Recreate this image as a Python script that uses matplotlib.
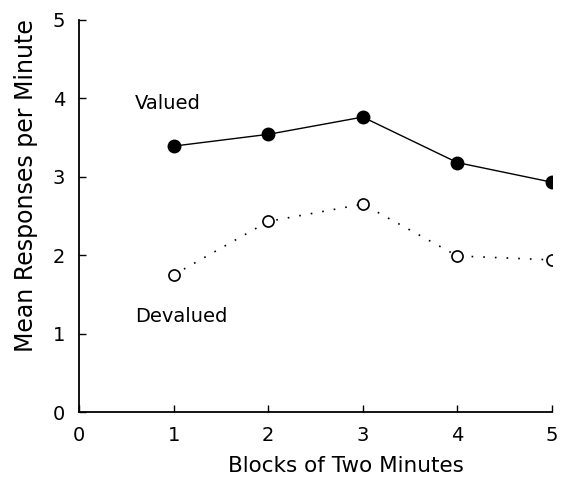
import matplotlib.pyplot as plt

blocks = [1, 2, 3, 4, 5]
valued = [3.39, 3.54, 3.76, 3.18, 2.93]
devalued = [1.75, 2.43, 2.65, 1.99, 1.94]
ticks = [0, 1, 2, 3, 4, 5]

plt.rcParams['font.family'] = ['DejaVu Sans']

fig = plt.figure(figsize=(5.66, 4.82), dpi=100)
ax = fig.add_axes([0.14, 0.145, 0.835, 0.814])

ax.plot(blocks, valued, color='black', lw=1.0, marker='o', ms=9,
        mfc='black', mec='black')
ax.plot(blocks, devalued, color='black', lw=1.2, ls=(0, (1, 6)),
        marker='o', ms=8, mfc='white', mec='black', mew=1.2)

ax.text(0.59, 3.93, 'Valued', fontsize=14, va='center', ha='left')
ax.text(0.59, 1.22, 'Devalued', fontsize=14, va='center', ha='left')

ax.set_xlim(0, 5)
ax.set_ylim(0, 5)
ax.set_xticks(ticks)
ax.set_yticks(ticks)
ax.tick_params(direction='in', length=5, width=1, labelsize=14, pad=10)
ax.set_xlabel('Blocks of Two Minutes', fontsize=15.5)
ax.set_ylabel('Mean Responses per Minute', fontsize=17)
# labels sit off-centre in the original
ax.xaxis.set_label_coords(0.565, -0.112)
ax.yaxis.set_label_coords(-0.088, 0.577)

ax.spines['top'].set_visible(False)
ax.spines['right'].set_visible(False)
for s in ['left', 'bottom']:
    ax.spines[s].set_linewidth(1.3)

fig.savefig('out.png', dpi=100)
